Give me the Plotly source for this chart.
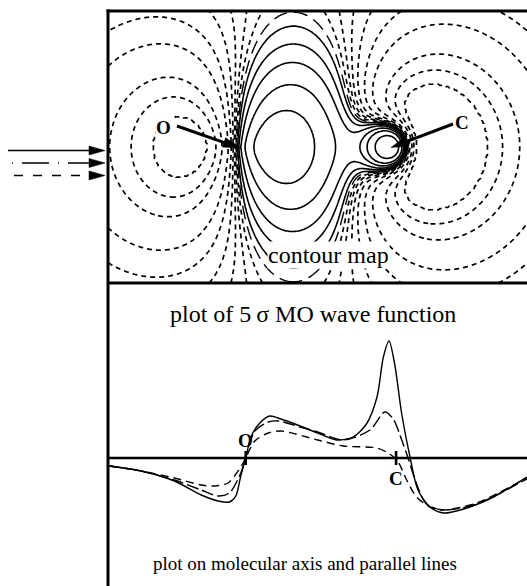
import numpy as np
import plotly.graph_objects as go

W, H = 527, 586

# ---------------- bottom panel: 5σ wave function along the molecular axis and two parallel lines
# positions in bohr (O at 0, C at 2.13); amplitudes in arbitrary units
axis_x = [-1.93, -1.48, -1.01, -0.63, -0.39, -0.23, -0.14, -0.07, 0.0, 0.08, 0.20, 0.34, 0.50,
          0.77, 1.02, 1.29, 1.52, 1.71, 1.86, 1.95, 2.03, 2.11, 2.21, 2.33, 2.44, 2.61, 2.80,
          3.04, 3.51, 3.98]
axis_psi = [-8, -13, -23, -37, -43, -44, -38, -18, 0, 22, 35, 42, 39,
            32, 25, 18, 21, 34, 61, 101, 117, 94, 44, 0, -32, -49, -55,
            -52, -39, -19]

near_x = [-1.93, -1.48, -1.01, -0.63, -0.39, -0.23, -0.07, 0.0, 0.13, 0.32, 0.46, 0.77,
          1.02, 1.38, 1.76, 1.97, 2.09, 2.21, 2.30, 2.42, 2.56, 2.80, 3.27, 3.98]
near_psi = [-8, -13, -22, -32, -38, -35, -15, 0, 27, 36, 37, 31,
            26, 18, 28, 46, 39, 18, 0, -26, -46, -52, -46, -21]

far_x = [-1.93, -1.48, -1.01, -0.63, -0.44, -0.25, -0.07, 0.0, 0.13, 0.32, 0.50, 1.02,
         1.38, 1.86, 2.04, 2.16, 2.28, 2.42, 2.61, 2.80, 3.27, 3.98]
far_psi = [-8, -13, -20, -27, -28, -25, -9, 0, 17, 25, 27, 18,
           12, 10, 4, -4, -22, -39, -49, -52, -45, -20]

atom_labels = ["O", "C"]
atom_x = [0.0, 2.13]

# ---------------- top panel: contour map, LCAO model of the 5σ MO (Slater-type functions)
o_p_coef, o_p_exp = 1.3, 1.35       # O 2p(sigma)
o_s_coef, o_s_exp = 0.12, 1.2       # O 2s
c_core_coef, c_core_exp = 2.2, 5.0  # C inner (cusp) part
c_s_coef, c_s_exp = -0.8, 0.9       # C diffuse 2s
c_p_coef, c_p_exp = -0.8, 1.6       # C 2p(sigma)
levels_pos = [0.012, 0.035, 0.07, 0.13, 0.22, 0.45, 1.0]
levels_neg = [0.012, 0.025, 0.04, 0.06, 0.09, 0.13, 0.2, 0.25, 0.3]

# ---------------- geometry of the page (pixels)
top_x_range = [(108 - 240) / 70, (527 - 240) / 70]
top_y_range = [(147 - 283) / 70, (147 - 11) / 70]
bot_x_range = [(108 - 245.7) / 70.6, (527 - 245.7) / 70.6]
bot_y_range = [-72, 128]


def px(x):
    return x / W


def py(y):
    return 1 - y / H


gx = np.linspace(top_x_range[0], top_x_range[1], 361)
gy = np.linspace(top_y_range[0], top_y_range[1], 235)
X, Y = np.meshgrid(gx, gy)
xO, xC = atom_x
rO = np.hypot(X - xO, Y)
rC = np.hypot(X - xC, Y)
psi = (o_p_coef * (X - xO) * np.exp(-o_p_exp * rO)
       + o_s_coef * np.exp(-o_s_exp * rO)
       + c_core_coef * np.exp(-c_core_exp * rC)
       + c_s_coef * np.exp(-c_s_exp * rC)
       + c_p_coef * (X - xC) * np.exp(-c_p_exp * rC))

lp = np.array(levels_pos)
ln_ = np.array(levels_neg)
npos, nneg = len(lp), len(ln_)
knots = np.concatenate([-ln_[::-1], [0.0], lp])
idx = np.arange(-nneg, npos + 1, dtype=float)
G = np.round(np.interp(psi, knots, idx), 3)

black = [[0, "black"], [1, "black"]]
fig = go.Figure()
fig.add_trace(go.Contour(x=gx, y=gy, z=G, xaxis="x", yaxis="y",
                         contours=dict(start=1, end=npos, size=1, coloring="lines"),
                         colorscale=black, showscale=False, hoverinfo="skip",
                         line=dict(width=1.6, smoothing=1.0)))
fig.add_trace(go.Contour(x=gx, y=gy, z=G, xaxis="x", yaxis="y",
                         contours=dict(start=-nneg, end=-1, size=1, coloring="lines"),
                         colorscale=black, showscale=False, hoverinfo="skip",
                         line=dict(width=1.7, dash="5px,4px", smoothing=1.0)))
fig.add_trace(go.Contour(x=gx, y=gy, z=G, xaxis="x", yaxis="y",
                         contours=dict(type="constraint", operation="=", value=0),
                         showscale=False, hoverinfo="skip",
                         line=dict(width=1.4, color="black", dash="14px,7px", smoothing=1.0)))

# bottom curves
fig.add_trace(go.Scatter(x=axis_x, y=axis_psi, xaxis="x2", yaxis="y2", mode="lines",
                         line=dict(color="black", width=1.4, shape="spline", smoothing=0.8),
                         hoverinfo="skip"))
fig.add_trace(go.Scatter(x=near_x, y=near_psi, xaxis="x2", yaxis="y2", mode="lines",
                         line=dict(color="black", width=1.4, shape="spline", smoothing=0.8,
                                   dash="12px,4px"),
                         hoverinfo="skip"))
fig.add_trace(go.Scatter(x=far_x, y=far_psi, xaxis="x2", yaxis="y2", mode="lines",
                         line=dict(color="black", width=1.4, shape="spline", smoothing=0.8,
                                   dash="8px,5px"),
                         hoverinfo="skip"))

shapes = []
# frame lines
shapes.append(dict(type="line", xref="paper", yref="paper", x0=px(106.5), x1=px(530),
                   y0=py(11), y1=py(11), line=dict(color="black", width=3)))
shapes.append(dict(type="line", xref="paper", yref="paper", x0=px(108), x1=px(108),
                   y0=py(9.5), y1=py(590), line=dict(color="black", width=3)))
shapes.append(dict(type="line", xref="paper", yref="paper", x0=px(108), x1=px(530),
                   y0=py(283), y1=py(283), line=dict(color="black", width=3)))
# molecular axis in bottom panel
shapes.append(dict(type="line", xref="x2 domain", yref="y2", x0=0, x1=1, y0=0, y1=0,
                   line=dict(color="black", width=2.6)))
for ax_ in atom_x:
    shapes.append(dict(type="line", xref="x2", yref="y2", x0=ax_, x1=ax_, y0=-7, y1=7,
                       line=dict(color="black", width=2.6)))


def arrow(x0, y0, x1, y1, dash=None, width=1.4, head_len=16, head_w=5):
    v = np.array([x1 - x0, y1 - y0], float)
    L = np.hypot(*v)
    u = v / L
    nrm = np.array([-u[1], u[0]])
    bx, by = x1 - u[0] * head_len, y1 - u[1] * head_len
    lsty = dict(color="black", width=width)
    if dash:
        lsty["dash"] = dash
    shapes.append(dict(type="line", xref="paper", yref="paper", x0=px(x0), y0=py(y0),
                       x1=px(bx + u[0] * 2), y1=py(by + u[1] * 2), line=lsty))
    p1 = (bx + nrm[0] * head_w, by + nrm[1] * head_w)
    p2 = (bx - nrm[0] * head_w, by - nrm[1] * head_w)
    path = "M {} {} L {} {} L {} {} Z".format(px(x1), py(y1), px(p1[0]), py(p1[1]),
                                             px(p2[0]), py(p2[1]))
    shapes.append(dict(type="path", xref="paper", yref="paper", path=path,
                       fillcolor="black", line=dict(color="black", width=0.5)))


# legend arrows for the three plotted lines
arrow(8, 150.5, 105, 150.5, None, 1.4, 16, 4.5)
arrow(12, 163, 105, 163, "1px,9px,27px,9px", 1.4, 16, 4.5)
arrow(14, 175.5, 105, 175.5, "9px,10px", 1.4, 16, 4.5)
# atom arrows in the contour map
arrow(177, 126, 240, 148, None, 3, 17, 5)
arrow(453, 124, 391, 147.5, None, 3, 17, 5)

serif = "Liberation Serif, Times New Roman, serif"
ann = []


def label(text, x, y, size, **kw):
    d = dict(text=text, x=x, y=y, xref="paper", yref="paper", showarrow=False,
             xanchor="center", yanchor="middle",
             font=dict(family=serif, size=size, color="black"))
    d.update(kw)
    ann.append(d)


label("<b>O</b>", px(163.5), py(127), 19, bgcolor="white", borderpad=0)
label("<b>C</b>", px(461.5), py(122.5), 19, bgcolor="white", borderpad=0)
label("contour map", px(328), py(255), 24, bgcolor="white", borderpad=0)
label("plot of 5\u2009σ MO wave function", px(313), py(314), 24)
label("plot on molecular axis and parallel lines", px(304.5), py(563), 19)
ann.append(dict(text="<b>O</b>", x=atom_x[0], y=0, xref="x2", yref="y2", yshift=18,
                xanchor="center", yanchor="middle", showarrow=False,
                font=dict(family=serif, size=19, color="black")))
ann.append(dict(text="<b>C</b>", x=atom_x[1], y=0, xref="x2", yref="y2", yshift=-20,
                xanchor="center", yanchor="middle", showarrow=False,
                font=dict(family=serif, size=19, color="black")))

ax_common = dict(visible=False, showgrid=False, zeroline=False, fixedrange=True)
fig.update_layout(
    width=W, height=H, margin=dict(l=0, r=0, t=0, b=0),
    paper_bgcolor="white", plot_bgcolor="rgba(0,0,0,0)", showlegend=False,
    xaxis=dict(domain=[px(108), 1], range=top_x_range, anchor="y", **ax_common),
    yaxis=dict(domain=[py(283), py(11)], range=top_y_range, anchor="x", **ax_common),
    xaxis2=dict(domain=[px(108), 1], range=bot_x_range, anchor="y2", **ax_common),
    yaxis2=dict(domain=[py(530), py(330)], range=bot_y_range, anchor="x2", **ax_common),
    shapes=shapes, annotations=ann,
)
fig.write_html("out.html")
